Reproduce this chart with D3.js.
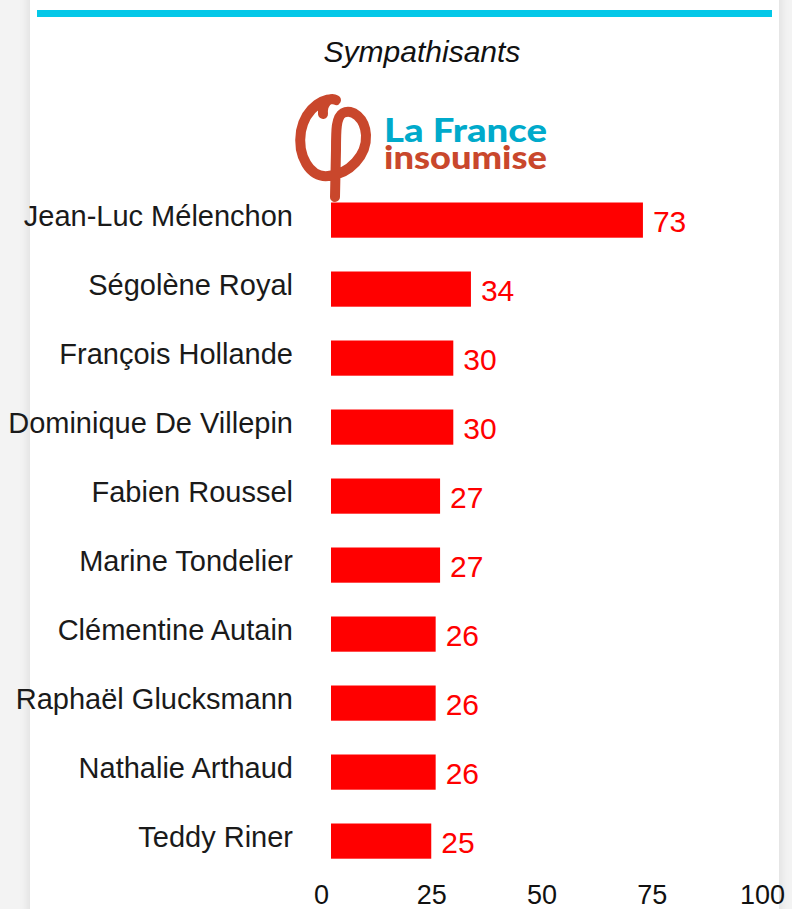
<!DOCTYPE html>
<html>
<head>
<meta charset="utf-8">
<script src="https://cdn.jsdelivr.net/npm/d3@7"></script>
<style>
  body { margin: 0; background: #f3f3f3; }
  svg { display: block; }
</style>
</head>
<body>
<div id="chart"></div>
<script>
var width = 792
var height = 909

// data
var names = ["Jean-Luc Mélenchon", "Ségolène Royal", "François Hollande", "Dominique De Villepin",
    "Fabien Roussel", "Marine Tondelier", "Clémentine Autain", "Raphaël Glucksmann",
    "Nathalie Arthaud", "Teddy Riner"]
var values = [73, 34, 30, 30, 27, 27, 26, 26, 26, 25]
var ticks = [0, 25, 50, 75, 100]
var title = "Sympathisants"

var fontFamily = "'Liberation Sans', Arial, sans-serif"
var rust = "#c9472c"
var cyan = "#00aacb"

var svg = d3.select('#chart')
    .append('svg')
    .attr('width', width)
    .attr('height', height)

// card with soft shadow
var defs = svg.append('defs')
var f = defs.append('filter').attr('id', 'shadow').attr('x', '-10%').attr('y', '-10%').attr('width', '120%').attr('height', '120%')
f.append('feGaussianBlur').attr('in', 'SourceAlpha').attr('stdDeviation', 6)
f.append('feComponentTransfer').append('feFuncA').attr('type', 'linear').attr('slope', 0.12)
var m = f.append('feMerge')
m.append('feMergeNode')
m.append('feMergeNode').attr('in', 'SourceGraphic')

svg.append('rect')
    .attr('x', 30).attr('y', -20)
    .attr('width', 749).attr('height', height + 40)
    .attr('fill', '#fff')
    .attr('filter', 'url(#shadow)')

svg.append('rect')
    .attr('x', 37).attr('y', 10)
    .attr('width', 735).attr('height', 7)
    .attr('fill', '#04c8e8')

svg.append('text')
    .attr('x', 422).attr('y', 62)
    .attr('text-anchor', 'middle')
    .attr('font-family', fontFamily)
    .attr('font-style', 'italic')
    .attr('font-size', 30)
    .attr('fill', '#111')
    .text(title)

// logo
var logo = svg.append('g')
logo.append('path')
    .attr('d', 'M323,114 C322,104 329,96 336,100 C327,96 306,106 301,131 C297,156 310,178 328,176 ' +
        'C350,174 367,155 366,135 C365,118 352,108 343,113 C336,117 336,130 336,150 L335,197')
    .attr('fill', 'none')
    .attr('stroke', rust)
    .attr('stroke-width', 10)
    .attr('stroke-linecap', 'round')
    .attr('stroke-linejoin', 'round')
var logoText = logo.append('text')
    .attr('font-family', "Lato, 'Open Sans', sans-serif")
    .attr('font-weight', 900)
    .attr('font-size', 33)
logoText.append('tspan')
    .attr('x', 384).attr('y', 142)
    .attr('textLength', 163)
    .attr('lengthAdjust', 'spacingAndGlyphs')
    .attr('fill', cyan)
    .text('La France')
logoText.append('tspan')
    .attr('x', 384).attr('y', 169)
    .attr('textLength', 163)
    .attr('lengthAdjust', 'spacingAndGlyphs')
    .attr('fill', rust)
    .text('insoumise')

// scales
var x = d3.scaleLinear().domain([0, 100]).range([321, 762])
var y = d3.scaleBand().domain(names).range([185.6, 875.6]).paddingInner(0.49).paddingOuter(0.245)
var barStart = x(0) + 10

var rows = names.map(function (n, i) { return { name: n, value: values[i] } })

svg.selectAll('.bar')
    .data(rows)
    .enter()
    .append('rect')
    .attr('class', 'bar')
    .attr('x', barStart)
    .attr('y', function (d) { return y(d.name) })
    .attr('width', function (d) { return x(d.value) - barStart })
    .attr('height', y.bandwidth())
    .attr('fill', '#ff0000')

svg.selectAll('.name')
    .data(rows)
    .enter()
    .append('text')
    .attr('class', 'name')
    .attr('x', 293)
    .attr('y', function (d) { return y(d.name) + y.bandwidth() / 2 - 4 })
    .attr('dy', '0.35em')
    .attr('text-anchor', 'end')
    .attr('font-family', fontFamily)
    .attr('font-size', 29)
    .attr('fill', '#1a1a1a')
    .text(function (d) { return d.name })

svg.selectAll('.val')
    .data(rows)
    .enter()
    .append('text')
    .attr('class', 'val')
    .attr('x', function (d) { return x(d.value) + 10 })
    .attr('y', function (d) { return y(d.name) + y.bandwidth() / 2 + 1 })
    .attr('dy', '0.35em')
    .attr('font-family', fontFamily)
    .attr('font-size', 30)
    .attr('fill', '#ff0000')
    .text(function (d) { return d.value })

var xAxis = svg.append('g')
    .attr('transform', 'translate(0,880)')
    .call(d3.axisBottom(x).tickValues(ticks).tickSize(0).tickPadding(0))
xAxis.select('.domain').remove()
xAxis.selectAll('text')
    .attr('dy', '0.71em')
    .attr('y', 5)
    .attr('font-family', fontFamily)
    .attr('font-size', 27)
    .attr('fill', '#111')
</script>
</body>
</html>
